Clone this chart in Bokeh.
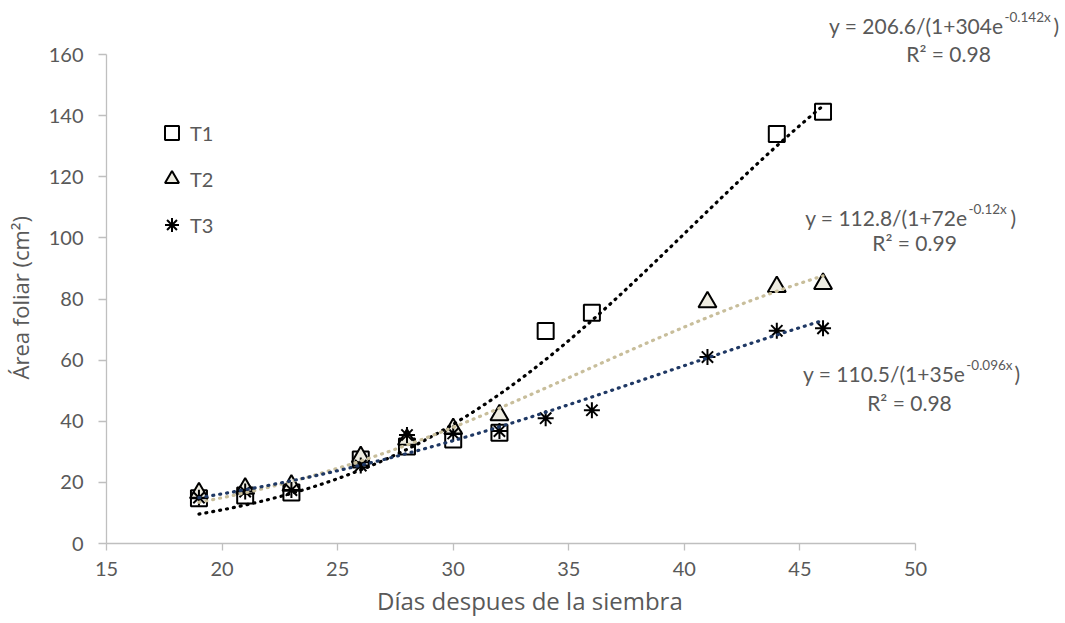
import numpy as np
from bokeh.plotting import figure
from bokeh.models import Label, Legend, LegendItem, Range1d, FixedTicker
from bokeh.embed import file_html
from bokeh.resources import INLINE

# ---- data ----
days_t1 = [19, 21, 23, 26, 28, 30, 32, 34, 36, 44, 46]
area_t1 = [14.8, 15.7, 16.7, 27.5, 31.7, 34.0, 36.2, 69.5, 75.5, 134, 141.3]
days_t2 = [19, 21, 23, 26, 28, 30, 32, 41, 44, 46]
area_t2 = [16.5, 18, 19, 28.3, 34, 37.5, 42, 79, 84, 85]
days_t3 = [19, 21, 23, 26, 28, 30, 32, 34, 36, 41, 44, 46]
area_t3 = [15, 17, 17.5, 25.5, 35.5, 36, 36.8, 41, 43.6, 61, 69.6, 70.4]

series_names = ["T1", "T2", "T3"]
# logistic trend lines y = a/(1+b*exp(-c*x)) as drawn in the chart
trend_a = [206.6, 112.8, 110.5]
trend_b = [304, 72, 37.4]
trend_c = [0.142, 0.12, 0.0932]
trend_start = [19, 19, 19]
trend_end = [46, 46, 46]

eq_main = ["y = 206.6/(1+304e", "y = 112.8/(1+72e", "y = 110.5/(1+35e"]
eq_sup = ["-0.142x", "-0.12x", "-0.096x"]
eq_r2 = ["R² = 0.98", "R² = 0.99", "R² = 0.98"]

x_title = "Días despues de la siembra"
y_title = "Área foliar (cm²)"
x_ticks = [15, 20, 25, 30, 35, 40, 45, 50]
y_ticks = [0, 20, 40, 60, 80, 100, 120, 140, 160]

FONT = "Lato"
TFONT = "Open Sans"
GRAY = "#595959"
AXIS = "#BFBFBF"
NBSP = "\u00a0"
trend_colors = ["#000000", "#C8BE9B", "#1F3864"]

# frame extends to the right/top edges so the equation labels are not clipped
p = figure(width=1065, height=623, output_backend="svg", toolbar_location=None,
           x_range=Range1d(15, 56.49), y_range=Range1d(0, 177.67),
           min_border_left=106, min_border_right=0, min_border_top=0, min_border_bottom=80)
p.outline_line_color = None
p.xgrid.visible = False
p.ygrid.visible = False
p.background_fill_color = "white"
p.border_fill_color = "white"

for ax in (p.xaxis[0], p.yaxis[0]):
    ax.axis_line_color = AXIS
    ax.axis_line_width = 1.3
    ax.major_tick_line_color = AXIS
    ax.major_tick_line_width = 1.3
    ax.minor_tick_line_color = None
    ax.major_tick_in = 0
    ax.major_tick_out = 8
    ax.major_label_text_font = FONT
    ax.major_label_text_font_size = "20px"
    ax.major_label_text_color = GRAY
p.xaxis.ticker = FixedTicker(ticks=x_ticks)
p.yaxis.ticker = FixedTicker(ticks=y_ticks)
p.xaxis.bounds = (15, 50)
p.yaxis.bounds = (0, 160)
p.xaxis.major_label_standoff = 11
p.yaxis.major_label_standoff = 15
p.xaxis.major_tick_out = 7

# axis titles are centred on the (extended) frame: trailing no-break spaces shift them
p.yaxis.axis_label = y_title + NBSP * 9
p.yaxis.axis_label_standoff = 11
p.yaxis.axis_label_text_font = TFONT
p.yaxis.axis_label_text_font_size = "22px"
p.yaxis.axis_label_text_font_style = "normal"
p.yaxis.axis_label_text_color = GRAY

p.xaxis.axis_label = x_title + NBSP * 18
p.xaxis.axis_label_standoff = 5
p.xaxis.axis_label_text_font = TFONT
p.xaxis.axis_label_text_font_size = "24px"
p.xaxis.axis_label_text_font_style = "normal"
p.xaxis.axis_label_text_color = GRAY

# markers
r1 = p.scatter(days_t1, area_t1, marker="square", size=16, fill_color="white",
               line_color="black", line_width=2)
r2 = p.scatter(days_t2, area_t2, marker="triangle", size=18, fill_color="#EEECE1",
               line_color="black", line_width=2)
r3 = p.scatter(days_t3, area_t3, marker="asterisk", size=16, line_color="black", line_width=2)

# trend lines
for i in range(3):
    xs = np.linspace(trend_start[i], trend_end[i], 200)
    ys = trend_a[i] / (1 + trend_b[i] * np.exp(-trend_c[i] * xs))
    p.line(xs, ys, line_color=trend_colors[i], line_width=3.2, line_dash="1 6",
           line_cap="round")

legend = Legend(items=[LegendItem(label=series_names[0], renderers=[r1]),
                       LegendItem(label=series_names[1], renderers=[r2]),
                       LegendItem(label=series_names[2], renderers=[r3])],
                location=(48, 301), orientation="vertical",
                glyph_width=35, glyph_height=35, label_standoff=1, spacing=11,
                padding=0, margin=0, border_line_color=None, background_fill_alpha=0,
                label_text_font=FONT, label_text_font_size="20px", label_text_color=GRAY,
                label_height=35)
p.add_layout(legend)

# equation labels (data coordinates)
main_pos = [(53.81, 169.5), (52.25, 106.7), (52.16, 55.6)]
sup_pos = [(53.85, 172.3), (52.29, 109.4), (52.20, 58.3)]
par_pos = [(55.97, 169.5), (54.11, 106.7), (54.28, 55.6)]
r2_pos = [(51.43, 160.3), (49.96, 98.5), (49.74, 46.1)]
for i in range(3):
    p.add_layout(Label(x=main_pos[i][0], y=main_pos[i][1], text=eq_main[i], text_align="right",
                       text_baseline="middle", text_font=FONT, text_font_size="21px",
                       text_color=GRAY))
    p.add_layout(Label(x=sup_pos[i][0], y=sup_pos[i][1], text=eq_sup[i], text_align="left",
                       text_baseline="middle", text_font=FONT, text_font_size="13.5px",
                       text_color=GRAY))
    p.add_layout(Label(x=par_pos[i][0], y=par_pos[i][1], text=")", text_align="left",
                       text_baseline="middle", text_font=FONT, text_font_size="21px",
                       text_color=GRAY))
    p.add_layout(Label(x=r2_pos[i][0], y=r2_pos[i][1], text=eq_r2[i], text_align="center",
                       text_baseline="middle", text_font=FONT, text_font_size="21px",
                       text_color=GRAY))

open("out.html", "w").write(file_html(p, INLINE))
